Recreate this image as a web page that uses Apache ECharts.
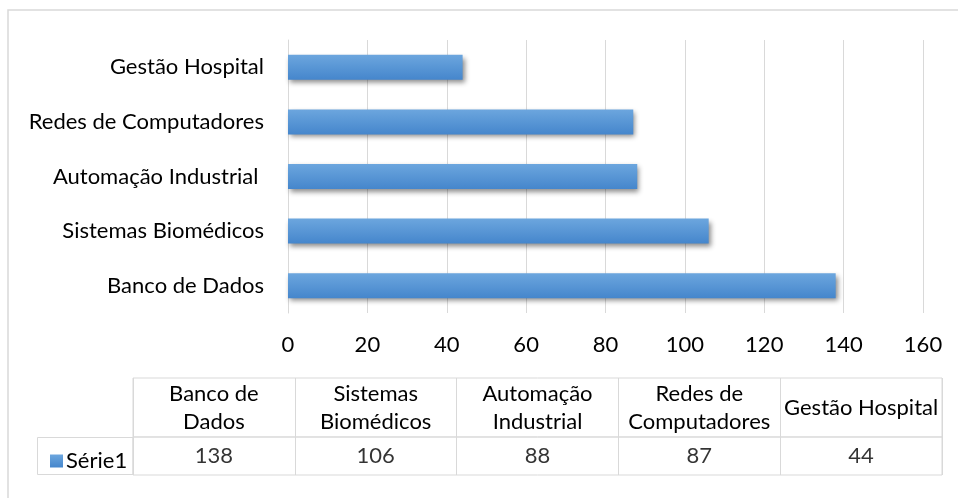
<!DOCTYPE html>
<html>
<head>
<meta charset="utf-8">
<script src="https://cdn.jsdelivr.net/npm/echarts@6/dist/echarts.min.js"></script>
<style>
  html, body { margin: 0; padding: 0; background: #fff; }
  #chart { width: 958px; height: 498px; }
</style>
</head>
<body>
<div id="chart"></div>
<script>
// dados do gráfico
const categorias = ['Banco de Dados', 'Sistemas Biomédicos', 'Automação Industrial ', 'Redes de Computadores', 'Gestão Hospital'];
const cabecalhoTabela = ['Banco de\nDados', 'Sistemas\nBiomédicos', 'Automação\nIndustrial', 'Redes de\nComputadores', 'Gestão Hospital'];
const serie1 = [138, 106, 88, 87, 44];
const nomeSerie = 'Série1';
const eixoX = { min: 0, max: 160, interval: 20 };

const fonte = 'Lato, "Open Sans", sans-serif';
const tam = 22;
const cinza = '#d9d9d9';

let chart = echarts.init(document.getElementById('chart'));

let option = {
  animation: false,
  backgroundColor: '#fff',
  textStyle: { fontFamily: fonte },
  legend: {
    data: [nomeSerie],
    left: 45,
    top: 445,
    itemWidth: 13,
    itemHeight: 13,
    itemGap: 4,
    icon: 'rect',
    textStyle: { fontSize: tam, color: '#000', fontFamily: fonte, padding: [0, 0, 0, -2] }
  },
  grid: [
    // gráfico de barras
    { left: 288, right: 35, top: 40, height: 273, containLabel: false },
    // linha de cabeçalho da tabela
    { left: 133, width: 809, top: 378, height: 59, show: true, borderColor: cinza, borderWidth: 1 },
    // linha de valores da tabela
    { left: 133, width: 809, top: 437, height: 38, show: true, borderColor: cinza, borderWidth: 1 }
  ],
  xAxis: [
    {
      type: 'value', gridIndex: 0,
      min: eixoX.min, max: eixoX.max, interval: eixoX.interval,
      axisLine: { show: false }, axisTick: { show: false },
      splitLine: { lineStyle: { color: cinza, width: 1 } },
      axisLabel: { fontSize: tam, color: '#000', margin: 21, fontFamily: fonte }
    },
    {
      type: 'category', gridIndex: 1, data: cabecalhoTabela,
      axisLine: { show: false }, axisTick: { show: false },
      splitLine: { show: true, interval: 0, lineStyle: { color: cinza, width: 1 } },
      axisLabel: {
        inside: true, interval: 0, margin: 29.5, verticalAlign: 'middle',
        fontSize: tam, lineHeight: 28, color: '#000', fontFamily: fonte
      }
    },
    {
      type: 'category', gridIndex: 2, data: categorias,
      axisLine: { show: false }, axisTick: { show: false },
      splitLine: { show: true, interval: 0, lineStyle: { color: cinza, width: 1 } },
      axisLabel: { show: false }
    }
  ],
  yAxis: [
    {
      type: 'category', gridIndex: 0, data: categorias,
      axisLine: { show: true, lineStyle: { color: cinza } }, axisTick: { show: false },
      axisLabel: { fontSize: tam, color: '#000', margin: 24, fontFamily: fonte }
    },
    { type: 'value', gridIndex: 1, min: 0, max: 1, show: false },
    { type: 'value', gridIndex: 2, min: 0, max: 1, show: false }
  ],
  series: [
    {
      name: nomeSerie,
      type: 'bar',
      xAxisIndex: 0, yAxisIndex: 0,
      data: serie1,
      barWidth: 25,
      itemStyle: {
        color: new echarts.graphic.LinearGradient(0, 0, 0, 1, [
          { offset: 0, color: '#6ca6de' },
          { offset: 1, color: '#4586cc' }
        ]),
        shadowColor: 'rgba(0,0,0,0.45)',
        shadowBlur: 5,
        shadowOffsetX: 2,
        shadowOffsetY: 3
      }
    },
    {
      name: 'tabela',
      type: 'scatter',
      xAxisIndex: 2, yAxisIndex: 2,
      symbolSize: 0,
      silent: true,
      data: serie1.map((v, i) => [categorias[i], 0.5, v]),
      label: {
        show: true, position: 'inside',
        formatter: p => p.data[2],
        fontSize: tam, color: '#000', fontFamily: fonte
      }
    }
  ],
  graphic: [
    // moldura externa
    { type: 'rect', shape: { x: 8, y: 10, width: 960, height: 500 }, style: { fill: 'none', stroke: cinza, lineWidth: 1.5 }, z: -1 },
    // célula da legenda
    { type: 'rect', shape: { x: 37.5, y: 437.5, width: 95.5, height: 37 }, style: { fill: 'none', stroke: cinza, lineWidth: 1 } }
  ]
};

chart.setOption(option);
</script>
</body>
</html>
